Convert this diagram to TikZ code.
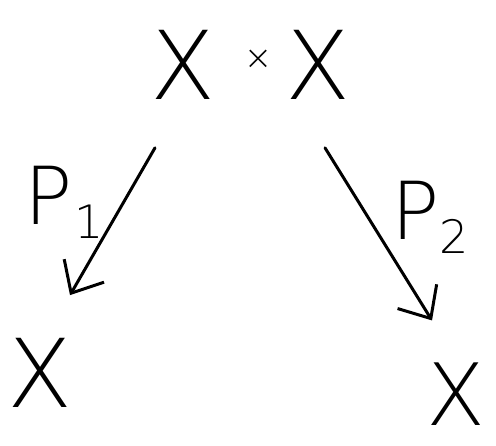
\documentclass[tikz,border=0pt]{standalone}
\usepackage{fontspec}
\newfontfamily\hand{DejaVu Sans ExtraLight}
\usetikzlibrary{arrows.meta,calc}
\begin{document}
\begin{tikzpicture}[x=1pt,y=1pt,
  lbl/.style={font=\hand\fontsize{95}{95}\selectfont, inner sep=0pt},
  plbl/.style={font=\hand\fontsize{80}{80}\selectfont, inner sep=0pt},
  arr/.style={line width=3pt, line cap=round,
    -{Straight Barb[length=26pt,width=46pt,line width=3pt]}}]
\useasboundingbox (0,0) rectangle (496,446);
\node[lbl] (X1) at (183,381) {X};
\node[font=\hand\fontsize{34}{34}\selectfont, inner sep=0pt] (t) at (258,386) {×};
\node[lbl] (X2) at (318,381) {X};
\node[lbl] (bl) at (40,73) {X};
\node[lbl, font=\hand\fontsize{86}{86}\selectfont] (br) at (456,52) {X};
\draw[arr] ($(X1.south)+(-28,-48)$) -- ($(bl.north)+(30,43)$);
\draw[arr] ($(X2.south)+(7,-48)$) -- ($(br.north)+(-24,42)$);
\node[plbl] (p1) at (64,244) {P\kern2pt\raisebox{-14pt}{\fontsize{46}{46}\selectfont 1}};
\node[plbl] (p2) at (430,229) {P\kern0pt\raisebox{-14pt}{\fontsize{46}{46}\selectfont 2}};
\end{tikzpicture}
\end{document}
